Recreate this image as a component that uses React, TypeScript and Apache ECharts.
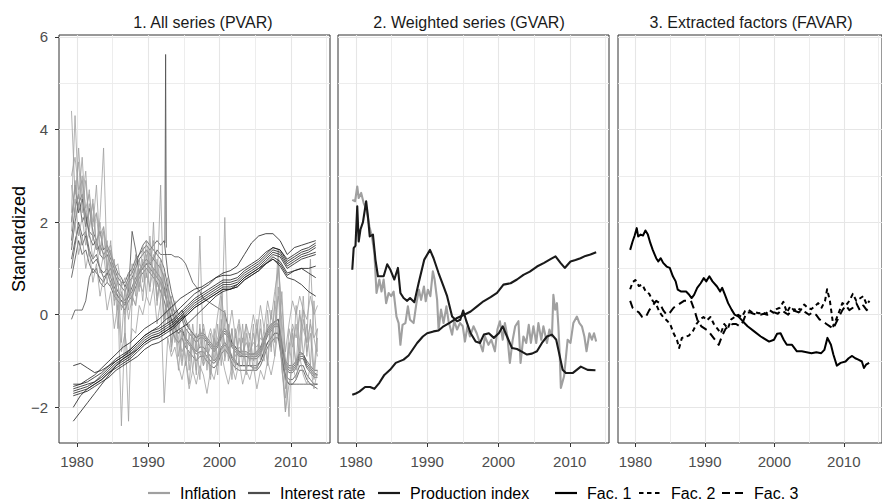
import React, { useEffect, useRef } from "react";
import * as echarts from "echarts";

const FONT = '"Liberation Sans", Arial, Helvetica, sans-serif';

// shared scales of the three facets
const X_MIN = 1977.5;
const X_MAX = 2015.5;
const Y_MIN = -2.77;
const Y_MAX = 6.04;
const X_MAJOR = [1980, 1990, 2000, 2010];
const X_MINOR = [1985, 1995, 2005, 2015];
const Y_MAJOR = [-2, 0, 2, 4, 6];
const Y_MINOR = [-1, 1, 3, 5];

const PANEL_TITLES = ["1. All series (PVAR)", "2. Weighted series (GVAR)", "3. Extracted factors (FAVAR)"];
const Y_TITLE = "Standardized";

const INFLATION_COLOR = "#a0a0a0";
const INTEREST_COLOR = "#4d4d4d";
const PRODUCTION_COLOR = "#1a1a1a";

// observation dates of panel 1
const HALF_YEARS = Array.from({ length: 70 }, (_, i) => 1979.25 + i * 0.5);
const YEARS = Array.from({ length: 35 }, (_, i) => 1979.5 + i);

// ---- Panel 1: interest rates (half-yearly) ----
const IR_1 = [
  1.6, 2.3, 2.6, 2.0, 2.2, 1.7, 1.5, 1.6, 1.3, 1.2,
  1.3, 1.1, 0.9, 0.7, 0.6, 0.5, 0.7, 0.8, 1.0, 1.2,
  1.3, 1.4, 1.3, 1.2, 1.1, 1.0, 0.8, 0.4, 0.1, -0.1,
  -0.2, -0.1, -0.3, -0.4, -0.5, -0.6, -0.5, -0.5, -0.6, -0.7,
  -0.8, -0.7, -0.5, -0.4, -0.5, -0.7, -0.8, -0.9, -0.9, -0.9,
  -0.9, -0.9, -0.9, -0.8, -0.6, -0.4, -0.3, -0.2, -0.2, -0.7,
  -1.1, -1.2, -1.2, -1.1, -0.9, -0.9, -1.1, -1.2, -1.3, -1.3,
];
const IR_2 = [
  -0.1, 0.1, 0.1, 0.1, 0.3, 0.8, 1.0, 0.9, 0.8, 0.7,
  0.9, 1.0, 0.7, 0.5, 0.4, 0.3, 0.5, 1.8, 1.4, 0.9,
  1.0, 1.1, 1.0, 0.9, 0.8, 0.7, 0.5, 0.2, -0.1, -0.3,
  -0.4, -0.3, -0.5, -0.6, -0.7, -0.8, -0.7, -0.7, -0.8, -0.9,
  -1.0, -0.9, -0.7, -0.6, -0.7, -0.9, -1.0, -1.1, -1.1, -1.1,
  -1.1, -1.15, -1.15, -1.0, -0.8, -0.6, -0.5, -0.4, -0.4, -0.9,
  -1.3, -1.4, -1.4, -1.3, -1.1, -1.1, -1.3, -1.4, -1.5, -1.5,
];
const IR_3 = [
  1.0, 1.5, 2.0, 1.7, 1.8, 1.4, 1.2, 1.3, 1.0, 0.9,
  1.0, 0.8, 0.6, 0.4, 0.3, 0.2, 0.4, 0.5, 0.7, 0.9,
  1.0, 1.1, 1.1, 1.2, 1.4, 1.3, 1.3, 1.3, 1.3, 1.25,
  1.25, 1.2, 1.1, 0.9, 0.7, 0.6, 0.5, 0.35, 0.3, 0.25,
  0.2, 0.15, 0.1, 0.05, -0.3, -0.6, -0.7, -0.8, -0.8, -0.8,
  -0.85, -0.85, -0.8, -0.7, -0.5, -0.3, -0.2, -0.15, -0.1, -0.6,
  -1.0, -1.1, -1.1, -1.0, -0.8, -0.85, -1.0, -1.1, -1.2, -1.2,
];
const IR_4 = [
  1.4, 2.0, 2.4, 2.6, 2.1, 1.8, 1.7, 1.4, 1.5, 1.3,
  1.4, 1.2, 1.0, 0.8, 0.7, 0.7, 0.9, 1.0, 1.2, 1.3,
  1.4, 1.5, 1.4, 1.5, 1.6, 1.5, 1.6, 0.9, 0.5, 0.2,
  0.0, 0.1, -0.1, -0.3, -0.4, -0.5, -0.4, -0.4, -0.5, -0.6,
  -0.7, -0.6, -0.4, -0.3, -0.4, -0.6, -0.7, -0.8, -0.85, -0.85,
  -0.85, -0.85, -0.85, -0.75, -0.55, -0.35, -0.25, -0.15, -0.1, -0.65,
  -1.05, -1.15, -1.15, -1.05, -0.85, -0.85, -1.05, -1.15, -1.25, -1.3,
];
const IR_5 = [
  0.8, 1.2, 1.6, 1.3, 1.4, 1.1, 0.9, 1.0, 0.7, 0.6,
  0.7, 0.6, 0.4, 0.3, 0.2, 0.1, 0.3, 0.4, 0.6, 0.8,
  0.9, 1.0, 0.9, 0.8, 0.7, 0.5, 0.3, 0.0, -0.3, -0.5,
  -0.6, -0.5, -0.7, -0.8, -0.9, -1.0, -0.9, -0.9, -1.0, -1.1,
  -1.15, -1.05, -0.85, -0.75, -0.85, -1.05, -1.15, -1.2, -1.2, -1.2,
  -1.2, -1.2, -1.2, -1.1, -0.9, -0.7, -0.6, -0.5, -0.5, -1.0,
  -1.4, -1.5, -1.5, -1.4, -1.2, -1.2, -1.4, -1.5, -1.55, -1.6,
];
const IR_6 = [
  2.0, 2.8, 2.2, 2.5, 1.9, 2.3, 1.8, 1.6, 1.8, 1.4,
  1.5, 1.3, 1.1, 0.9, 0.8, 0.6, 0.8, 0.9, 1.1, 1.3,
  1.5, 1.6, 1.5, 1.4, 1.3, 1.2, 1.0, 0.6, 0.3, 0.0,
  -0.1, 0.0, -0.2, -0.3, -0.4, -0.5, -0.45, -0.45, -0.55, -0.65,
  -0.75, -0.65, -0.45, -0.35, -0.45, -0.65, -0.75, -0.85, -0.9, -0.9,
  -0.95, -0.95, -0.95, -0.85, -0.65, -0.45, -0.35, -0.25, -0.25, -0.75,
  -1.15, -1.25, -1.25, -1.15, -0.95, -0.95, -1.15, -1.25, -1.35, -1.35,
];
const IR_7 = [
  1.2, 1.6, 1.9, 1.5, 1.7, 1.3, 1.1, 1.2, 1.0, 0.8,
  0.9, 0.7, 0.5, 0.4, 0.3, 0.25, 0.4, 0.6, 0.8, 0.9,
  1.1, 1.2, 1.1, 1.0, 0.9, 0.8, 0.6, 0.2, -0.1, -0.3,
  -0.4, -0.35, -0.55, -0.65, -0.75, -0.85, -0.8, -0.8, -0.9, -1.0,
  -1.05, -0.95, -0.75, -0.65, -0.75, -0.95, -1.05, -1.1, -1.1, -1.1,
  -1.1, -1.1, -1.1, -1.0, -0.8, -0.6, -0.5, -0.4, -0.4, -0.9,
  -1.35, -1.5, -1.5, -1.5, -1.5, -1.5, -1.5, -1.5, -1.5, -1.5,
];
// short-lived jump of one interest rate in 1992
const IR_SPIKE_X = [1992.35, 1992.45, 1992.55];
const IR_SPIKE_Y = [1.55, 5.62, 1.45];

// ---- Panel 1: inflation (half-yearly) ----
const INF_1 = [
  4.4, 2.6, 3.3, 2.2, 2.9, 1.9, 2.4, 1.5, 2.0, 1.2,
  1.6, 0.8, 1.2, 0.1, 0.7, -0.2, 0.9, 0.3, 1.3, 0.6,
  1.5, 0.8, 1.7, 0.6, 1.2, 0.3, 0.9, -0.2, 0.4, -0.6,
  -0.1, -1.0, -0.3, -1.2, -0.4, -1.3, -0.2, -1.1, -0.5, -1.3,
  -0.3, -1.1, 0.4, -0.9, -0.2, -1.2, -0.3, -1.1, -0.2, -1.2,
  -0.4, -1.0, -0.1, -0.9, -0.3, -1.0, 0.1, -0.6, 1.2, -0.9,
  -2.1, -0.6, -1.2, 0.2, -0.8, 0.4, -0.9, -0.1, -1.2, -0.3,
];
const INF_2 = [
  2.2, 4.3, 2.5, 3.4, 2.1, 2.7, 1.6, 2.2, 1.3, 1.8,
  0.9, 1.4, 0.2, 0.9, -0.6, 0.6, 0.1, 1.1, 0.4, 1.2,
  0.7, 1.6, 0.9, 1.3, 0.4, 0.8, -0.1, 0.5, -0.6, 0.1,
  -0.9, -0.3, -1.1, -0.4, -1.2, -0.5, -1.4, -0.3, -1.2, -0.4,
  -1.0, -0.2, -1.1, 0.1, -1.0, -0.3, -1.2, -0.2, -1.1, -0.4,
  -1.1, -0.2, -1.2, -0.1, -1.0, 0.1, -0.8, 0.3, -0.4, 0.5,
  -1.0, -2.2, -0.4, -1.1, 0.1, -0.9, -0.2, -1.1, 0.3, -0.8,
];
const INF_3 = [
  2.8, 2.1, 3.6, 2.5, 3.1, 1.8, 2.5, 1.4, 2.1, 3.6,
  1.0, 1.6, 0.3, 0.4, -2.4, -0.2, -2.3, 0.4, 0.2, 1.0,
  0.3, 1.3, 0.5, 2.0, 0.2, 1.1, -0.4, 0.6, -0.8, -0.1,
  -1.2, -0.4, -0.9, -1.5, -0.6, -1.2, -0.3, -1.0, -0.7, -1.4,
  -0.6, -1.3, -0.1, -1.0, -0.5, -1.4, -0.4, -0.9, -0.5, -1.3,
  -0.6, -1.2, -0.3, -1.0, -0.5, -1.1, -0.2, -0.9, 0.6, -1.2,
  -1.8, -0.9, -0.3, -1.2, -0.5, 0.1, -0.8, -0.4, -1.4, -0.5,
];
const INF_4 = [
  1.8, 2.9, 2.3, 3.0, 1.7, 2.4, 1.9, 2.8, 1.4, 1.9,
  1.1, 0.6, 1.0, -0.3, 0.5, 0.0, 0.7, 0.2, 1.0, 0.5,
  1.2, 0.4, 1.4, 0.9, 0.6, 2.8, -0.1, 0.3, -0.7, -0.2,
  -0.6, -1.1, -0.5, -1.0, -0.2, -0.8, 1.7, -0.9, -0.6, -1.2,
  -0.5, -0.9, -0.6, 2.1, -0.9, -0.3, -1.1, -0.5, -0.9, -0.2,
  -1.0, -0.4, -0.9, -0.3, -0.8, -0.2, -0.7, 0.2, 1.4, -0.4,
  -1.6, -0.3, -0.7, -0.2, -1.0, -0.1, -0.6, 1.2, -0.5, -0.9,
];
const INF_5 = [
  2.0, 2.5, 1.7, 2.1, 1.5, 1.8, 1.2, 1.6, 0.9, 1.3,
  0.7, 1.1, 0.4, 0.7, 0.1, 0.5, -0.1, 0.4, 0.2, 0.7,
  0.5, 0.9, 0.6, 1.0, 0.3, 0.7, 0.0, 0.3, -0.3, -0.1,
  -0.5, -0.8, -0.6, -0.9, -0.7, -1.0, -0.8, -1.1, -0.9, -0.7,
  -0.8, -0.5, -0.3, -0.6, -0.8, -0.6, -0.9, -0.7, -0.8, -0.6,
  -0.8, -0.6, -0.7, -0.5, -0.6, -0.4, -0.5, -0.2, 0.4, -0.1,
  -1.2, -0.7, -0.2, -0.5, 0.0, -0.3, -0.6, -0.2, -0.5, -0.3,
];
const INF_6 = [
  3.0, 3.4, 2.7, 2.9, 2.3, 2.6, 2.0, 2.2, 1.7, 1.9,
  1.4, 1.5, 1.0, 1.1, 0.6, 0.8, 0.4, 0.8, 0.7, 1.1,
  1.0, 1.4, 1.1, 1.6, 0.8, 1.2, 0.4, 0.8, 0.0, 0.3,
  -0.3, 0.0, -0.5, -0.2, -0.6, -0.4, -0.7, -0.2, -0.6, -0.3,
  -0.6, 0.0, 0.5, -0.3, -0.4, 0.1, -0.5, -0.1, -0.6, -0.2,
  -0.5, 0.0, -0.4, 0.2, -0.3, 0.3, -0.1, 0.5, 1.0, 0.2,
  -0.8, -0.2, 0.3, 0.0, 0.4, 0.1, -0.1, 0.4, 0.0, 0.2,
];
const INF_7 = [
  1.5, 2.0, 1.3, 1.7, 1.0, 1.4, 0.7, 1.1, 0.4, 0.8,
  0.1, 0.5, -0.3, 0.2, -0.8, -0.4, -1.0, -0.3, -0.4, 0.2,
  0.0, 0.4, 0.2, 0.6, -0.2, 0.3, -1.9, -0.5, -0.9, -0.7,
  -1.1, -1.4, -1.0, -1.6, -1.2, -1.5, -1.1, -1.3, -1.7, -1.2,
  -1.4, -1.0, -0.8, -1.2, -1.5, -1.1, -1.4, -1.0, -1.5, -1.2,
  -1.4, -1.1, -1.6, -1.2, -1.4, -1.0, -1.3, -0.9, -0.3, -1.1,
  -2.1, -1.5, -1.1, -1.4, -0.9, -1.3, -1.5, -1.1, -1.6, -1.2,
];

// ---- Panel 1: production indices (yearly) ----
const PROD_1 = [-1.6, -1.55, -1.5, -1.45, -1.35, -1.2, -1.05, -0.95, -0.85, -0.7, -0.55, -0.45, -0.4, -0.3, -0.2, -0.05, 0.1, 0.25, 0.35, 0.45, 0.55, 0.65, 0.65, 0.7, 0.85, 0.95, 1.05, 1.2, 1.35, 1.3, 1.05, 1.15, 1.25, 1.3, 1.35];
const PROD_2 = [-1.5, -1.5, -1.45, -1.35, -1.25, -1.1, -0.95, -0.85, -0.75, -0.6, -0.45, -0.35, -0.3, -0.2, -0.1, 0.05, 0.2, 0.35, 0.45, 0.55, 0.65, 0.75, 0.75, 0.8, 0.95, 1.05, 1.15, 1.3, 1.45, 1.4, 1.15, 1.25, 1.35, 1.4, 1.5];
const PROD_3 = [-1.1, -1.05, -1.15, -1.25, -1.2, -1.1, -1.0, -0.9, -0.8, -0.65, -0.5, -0.4, -0.35, -0.25, -0.15, 0.0, 0.15, 0.3, 0.4, 0.5, 0.6, 0.7, 0.7, 0.75, 0.9, 1.0, 1.1, 1.25, 1.4, 1.35, 1.1, 1.2, 1.3, 1.35, 1.45];
const PROD_4 = [-2.3, -2.1, -1.9, -1.7, -1.5, -1.3, -1.1, -0.95, -0.85, -0.75, -0.6, -0.5, -0.45, -0.35, -0.25, -0.1, 0.0, 0.15, 0.25, 0.35, 0.45, 0.55, 0.55, 0.6, 0.75, 0.85, 0.95, 1.1, 1.25, 1.15, 0.9, 0.95, 1.0, 1.0, 1.05];
const PROD_5 = [-2.0, -1.75, -1.6, -1.5, -1.4, -1.25, -1.1, -1.0, -0.9, -0.75, -0.6, -0.5, -0.45, -0.35, -0.25, -0.1, 0.05, 0.2, 0.3, 0.4, 0.5, 0.6, 0.6, 0.65, 0.8, 0.9, 1.0, 1.1, 1.2, 1.05, 0.8, 0.75, 0.65, 0.5, 0.4];
const PROD_6 = [-1.65, -1.6, -1.55, -1.45, -1.3, -1.15, -1.0, -0.9, -0.75, -0.6, -0.45, -0.35, -0.25, -0.1, 0.0, 0.15, 0.3, 0.45, 0.55, 0.65, 0.8, 0.9, 0.95, 1.05, 1.3, 1.55, 1.7, 1.75, 1.75, 1.6, 1.3, 1.45, 1.5, 1.55, 1.6];
const PROD_7 = [-1.7, -1.65, -1.6, -1.5, -1.4, -1.25, -1.15, -1.05, -0.95, -0.8, -0.65, -0.55, -0.5, -0.4, -0.3, -0.15, 0.0, 0.15, 0.25, 0.35, 0.45, 0.55, 0.55, 0.6, 0.75, 0.85, 0.95, 1.1, 1.2, 1.1, 0.85, 0.95, 1.0, 0.9, 0.8];
const PROD_8 = [-1.75, -1.7, -1.65, -1.55, -1.45, -1.35, -1.2, -1.1, -1.0, -0.9, -0.75, -0.65, -0.6, -0.5, -0.4, -0.3, -0.2, -0.05, 0.1, 0.25, 0.4, 0.5, 0.55, 0.65, 0.8, 0.9, 1.0, 1.15, 1.3, 1.25, 1.0, 1.1, 1.2, 1.25, 1.3];
const PROD_9 = [-1.55, -1.5, -1.4, -1.3, -1.15, -1.0, -0.85, -0.7, -0.6, -0.45, -0.3, -0.2, -0.1, 0.05, 0.2, 0.35, 0.45, 0.55, 0.6, 0.7, 0.8, 0.85, 0.85, 0.9, 1.0, 1.1, 1.2, 1.35, 1.45, 1.4, 1.2, 1.3, 1.4, 1.45, 1.55];

// ---- Panel 2: weighted series, [year, value] ----
const GVAR_INFLATION: [number, number][] = [
  [1979.5, 2.48], [1979.9, 2.45], [1980.2, 2.77], [1980.4, 2.52], [1980.75, 2.63], [1981.1, 2.41], [1981.5, 2.27],
  [1981.9, 1.91], [1982.25, 1.69], [1982.6, 1.33], [1982.9, 0.47], [1983.3, 0.76], [1983.6, 0.5], [1983.9, 0.76],
  [1984.25, 0.25], [1984.6, 0.47], [1984.95, 0.4], [1985.3, 0.5], [1985.7, -0.04], [1986.0, -0.18], [1986.25, -0.65],
  [1986.55, -0.22], [1986.95, -0.18], [1987.3, 0.18], [1987.6, -0.11], [1988.1, -0.18], [1988.5, 0.25], [1988.85, 0.54],
  [1989.15, 0.32], [1989.55, 0.61], [1989.8, 0.29], [1990.1, 0.54], [1990.45, 0.4], [1990.8, 0.94], [1991.05, 0.76],
  [1991.4, 0.32], [1991.6, -0.32], [1991.95, 0.11], [1992.3, -0.18], [1992.7, 0.18], [1993.0, -0.14], [1993.5, -0.43],
  [1993.8, -0.14], [1994.2, -0.32], [1994.6, -0.18], [1995.0, -0.25], [1995.3, -0.58], [1995.65, -0.25], [1996.0, -0.47],
  [1996.5, -0.25], [1996.95, -0.4], [1997.4, -0.61], [1997.8, -0.79], [1998.1, -0.47], [1998.6, -0.65], [1999.0, -0.54],
  [1999.5, -0.79], [1999.85, -0.32], [2000.2, -0.14], [2000.6, -0.54], [2000.9, -0.18], [2001.25, -0.47], [2001.6, -1.04],
  [2002.0, -0.54], [2002.35, -0.25], [2002.8, -0.14], [2003.1, -1.04], [2003.5, -0.47], [2003.9, -0.61], [2004.25, -0.22],
  [2004.55, -0.61], [2004.9, -0.25], [2005.3, -0.61], [2005.6, -0.18], [2006.0, -0.54], [2006.3, -0.25], [2006.8, -0.61],
  [2007.15, -0.32], [2007.5, -0.47], [2007.7, 0.43], [2007.95, 0.11], [2008.2, 0.25], [2008.4, -0.25], [2008.6, -0.9],
  [2008.75, -1.58], [2009.2, -1.33], [2009.7, -0.54], [2010.1, -0.61], [2010.5, -0.18], [2011.0, -0.04], [2011.35, -0.18],
  [2011.7, -0.25], [2012.05, -0.47], [2012.35, -0.79], [2012.75, -0.4], [2013.1, -0.54], [2013.4, -0.4], [2013.7, -0.58],
];
const GVAR_INTEREST: [number, number][] = [
  [1979.5, 0.97], [1979.7, 1.44], [1979.95, 1.49], [1980.2, 2.34], [1980.4, 1.58], [1980.65, 1.84], [1981.0, 2.0],
  [1981.45, 2.45], [1981.7, 2.12], [1981.95, 1.69], [1982.4, 1.73], [1982.75, 1.19], [1983.1, 0.83], [1983.9, 0.83],
  [1984.4, 1.09], [1984.85, 0.97], [1985.4, 0.76], [1985.9, 1.01], [1986.25, 0.47], [1986.7, 0.36], [1987.2, 0.3],
  [1987.6, 0.36], [1988.2, 0.27], [1988.8, 0.68], [1989.6, 1.19], [1990.4, 1.4], [1990.9, 1.22], [1991.6, 0.9],
  [1992.3, 0.61], [1992.8, 0.4], [1993.5, -0.04], [1994.2, -0.14], [1994.65, -0.11], [1995.05, 0.09], [1995.5, -0.14],
  [1996.1, -0.4], [1996.8, -0.58], [1997.4, -0.61], [1997.95, -0.43], [1998.65, -0.4], [1999.35, -0.5], [2000.05, -0.4],
  [2000.6, -0.25], [2001.2, -0.47], [2001.9, -0.72], [2002.6, -0.74], [2003.2, -0.79], [2004.0, -0.86], [2004.7, -0.84],
  [2005.4, -0.79], [2006.1, -0.61], [2006.8, -0.47], [2007.5, -0.43], [2008.1, -0.54], [2008.6, -0.9], [2009.0, -1.19],
  [2009.45, -1.26], [2010.4, -1.26], [2011.55, -1.12], [2012.5, -1.19], [2013.6, -1.2],
];
const GVAR_PRODUCTION: [number, number][] = [
  [1979.5, -1.73], [1980.0, -1.7], [1980.5, -1.66], [1981.3, -1.56], [1982.0, -1.56], [1982.6, -1.6], [1983.3, -1.47],
  [1984.0, -1.3], [1984.8, -1.19], [1985.6, -1.04], [1986.7, -0.97], [1987.4, -0.88], [1988.6, -0.61], [1989.4, -0.47],
  [1990.0, -0.4], [1990.9, -0.36], [1991.6, -0.34], [1992.3, -0.25], [1993.2, -0.17], [1994.2, -0.07], [1995.2, 0.0],
  [1996.1, 0.07], [1997.0, 0.18], [1997.9, 0.29], [1998.9, 0.38], [1999.8, 0.47], [2000.7, 0.65], [2001.7, 0.68],
  [2002.6, 0.76], [2003.5, 0.86], [2004.4, 0.93], [2005.4, 1.04], [2006.4, 1.12], [2007.3, 1.2], [2008.0, 1.26],
  [2008.7, 1.12], [2009.3, 1.01], [2010.1, 1.15], [2010.8, 1.18], [2011.5, 1.22], [2012.2, 1.27], [2012.9, 1.3],
  [2013.7, 1.35],
];

// ---- Panel 3: extracted factors, [year, value] ----
const FAC_1: [number, number][] = [
  [1979.25, 1.4], [1979.6, 1.58], [1979.9, 1.71], [1980.2, 1.87], [1980.4, 1.69], [1980.75, 1.73], [1981.1, 1.71],
  [1981.45, 1.82], [1981.8, 1.73], [1982.15, 1.55], [1982.5, 1.4], [1983.0, 1.22], [1983.3, 1.15], [1983.65, 1.22],
  [1984.0, 1.12], [1984.5, 1.04], [1984.95, 1.01], [1985.4, 0.83], [1985.8, 0.72], [1986.1, 0.54], [1986.6, 0.5],
  [1987.3, 0.5], [1987.75, 0.43], [1988.1, 0.36], [1988.45, 0.43], [1988.9, 0.58], [1989.4, 0.68], [1989.85, 0.79],
  [1990.2, 0.72], [1990.65, 0.83], [1991.1, 0.72], [1991.75, 0.61], [1992.2, 0.5], [1992.5, 0.58], [1992.9, 0.43],
  [1993.35, 0.25], [1993.85, 0.11], [1994.3, 0.0], [1994.85, -0.04], [1995.45, -0.14], [1996.15, -0.25], [1997.1, -0.36],
  [1998.05, -0.47], [1999.25, -0.58], [1999.95, -0.54], [2000.4, -0.41], [2000.9, -0.4], [2001.35, -0.54], [2001.8, -0.65],
  [2002.55, -0.65], [2003.25, -0.79], [2003.95, -0.79], [2004.65, -0.81], [2005.35, -0.83], [2006.05, -0.81], [2006.75, -0.83],
  [2007.2, -0.76], [2007.65, -0.5], [2008.15, -0.65], [2008.5, -0.86], [2009.0, -1.1], [2009.55, -1.04], [2010.25, -1.01],
  [2010.7, -0.94], [2011.2, -0.89], [2011.65, -0.94], [2012.1, -0.97], [2012.6, -1.01], [2012.9, -1.15], [2013.2, -1.08],
  [2013.65, -1.04],
];
const FAC_2: [number, number][] = [
  [1979.25, 0.55], [1979.6, 0.7], [1980.0, 0.75], [1980.5, 0.62], [1981.0, 0.65], [1981.5, 0.5], [1982.0, 0.45],
  [1982.5, 0.3], [1983.0, 0.22], [1983.5, 0.05], [1984.0, -0.05], [1984.5, -0.12], [1985.0, -0.2], [1985.5, -0.4],
  [1986.0, -0.55], [1986.3, -0.72], [1986.7, -0.5], [1987.2, -0.48], [1987.7, -0.45], [1988.3, -0.35], [1988.8, -0.2],
  [1989.3, -0.1], [1989.8, -0.05], [1990.3, -0.12], [1990.8, -0.05], [1991.3, -0.2], [1991.8, -0.3], [1992.3, -0.4],
  [1992.8, -0.2], [1993.3, -0.3], [1993.8, -0.1], [1994.3, -0.05], [1994.8, 0.0], [1995.3, -0.05], [1995.8, 0.08],
  [1996.3, 0.1], [1996.8, 0.05], [1997.3, 0.05], [1997.8, 0.03], [1998.3, 0.05], [1998.8, 0.02], [1999.3, 0.1],
  [1999.8, 0.05], [2000.3, 0.12], [2000.8, 0.15], [2001.3, 0.28], [2001.8, 0.05], [2002.3, 0.18], [2002.8, 0.1],
  [2003.3, 0.15], [2003.8, 0.1], [2004.3, 0.22], [2004.8, 0.15], [2005.3, 0.12], [2005.8, 0.18], [2006.3, 0.25],
  [2006.8, 0.15], [2007.3, 0.3], [2007.6, 0.55], [2008.0, 0.3], [2008.5, -0.25], [2008.9, -0.1], [2009.3, 0.05],
  [2009.8, 0.25], [2010.3, 0.2], [2010.8, 0.3], [2011.3, 0.45], [2011.8, 0.3], [2012.3, 0.35], [2012.8, 0.4],
  [2013.3, 0.22], [2013.7, 0.3],
];
const FAC_3: [number, number][] = [
  [1979.25, 0.3], [1979.6, 0.15], [1980.0, 0.1], [1980.5, 0.05], [1981.0, -0.05], [1981.5, -0.05], [1982.0, 0.1],
  [1982.5, 0.2], [1983.0, 0.3], [1983.5, 0.25], [1984.0, 0.1], [1984.5, 0.0], [1985.0, 0.05], [1985.5, 0.15],
  [1986.0, 0.2], [1986.5, 0.25], [1987.0, 0.3], [1987.5, 0.3], [1988.0, 0.3], [1988.5, 0.1], [1989.0, -0.15],
  [1989.5, -0.25], [1990.0, -0.3], [1990.5, -0.35], [1991.0, -0.45], [1991.5, -0.55], [1992.0, -0.65], [1992.5, -0.45],
  [1993.0, -0.3], [1993.5, -0.25], [1994.0, -0.2], [1994.5, -0.2], [1995.0, -0.25], [1995.5, -0.15], [1996.0, 0.05],
  [1996.5, 0.05], [1997.0, 0.02], [1997.5, 0.0], [1998.0, 0.0], [1998.5, 0.02], [1999.0, 0.0], [1999.5, 0.03],
  [2000.0, 0.05], [2000.5, 0.02], [2001.0, 0.1], [2001.5, 0.05], [2002.0, 0.0], [2002.5, 0.1], [2003.0, 0.08],
  [2003.5, 0.05], [2004.0, 0.1], [2004.5, 0.05], [2005.0, 0.0], [2005.5, 0.05], [2006.0, 0.0], [2006.5, -0.1],
  [2007.0, -0.15], [2007.5, -0.2], [2008.0, -0.25], [2008.5, -0.3], [2008.8, -0.2], [2009.3, -0.05], [2009.8, 0.1],
  [2010.3, 0.2], [2010.8, 0.1], [2011.3, 0.15], [2011.8, 0.25], [2012.3, 0.1], [2012.8, 0.2], [2013.3, 0.1],
  [2013.7, 0.15],
];

const INTEREST_SERIES = [IR_1, IR_2, IR_3, IR_4, IR_5, IR_6, IR_7];
const INFLATION_SERIES = [INF_1, INF_2, INF_3, INF_4, INF_5, INF_6, INF_7];
const PRODUCTION_SERIES = [PROD_1, PROD_2, PROD_3, PROD_4, PROD_5, PROD_6, PROD_7, PROD_8, PROD_9];

const FAC2_DASH = [4.5, 3.5];
const FAC3_DASH = [8, 5];

const LEGEND_ITEMS = [
  { label: "Inflation", color: INFLATION_COLOR, dash: null as any, x: 148 },
  { label: "Interest rate", color: INTEREST_COLOR, dash: null as any, x: 248 },
  { label: "Production index", color: PRODUCTION_COLOR, dash: null as any, x: 378 },
  { label: "Fac. 1", color: "#000000", dash: null as any, x: 555 },
  { label: "Fac. 2", color: "#000000", dash: FAC2_DASH as any, x: 639 },
  { label: "Fac. 3", color: "#000000", dash: FAC3_DASH as any, x: 722 },
];

// layout of the facet panels (pixels)
const PANEL_LEFT = [59, 338, 618];
const PANEL_TOP = 35;
const PANEL_W = 271;
const PANEL_H = 408;
const TITLE_CENTER = [203, 469, 751];

const zip = (xs: number[], ys: number[]) => ys.map((v, i) => [xs[i], v]);

function lineSeries(name: string, data: any[], panel: number, color: string, width: number, dash: any = "solid", z = 2) {
  return {
    type: "line",
    name,
    data,
    xAxisIndex: panel * 2,
    yAxisIndex: panel * 2,
    showSymbol: false,
    symbol: "none",
    silent: true,
    z,
    lineStyle: { color, width, type: dash, cap: "butt", join: "round" },
  };
}

function buildOption() {
  const grid = PANEL_LEFT.map((left) => ({
    left,
    top: PANEL_TOP,
    width: PANEL_W,
    height: PANEL_H,
    show: true,
    borderColor: "#333333",
    borderWidth: 1,
    backgroundColor: "transparent",
  }));

  const xAxis: any[] = [];
  const yAxis: any[] = [];
  PANEL_LEFT.forEach((_, g) => {
    xAxis.push({
      type: "value",
      gridIndex: g,
      min: X_MIN,
      max: X_MAX,
      position: "bottom",
      axisLine: { show: false, onZero: false },
      axisTick: { show: true, customValues: X_MAJOR, length: 4, lineStyle: { color: "#333333", width: 1 } },
      axisLabel: {
        show: true,
        customValues: X_MAJOR,
        margin: 11,
        color: "#4d4d4d",
        fontSize: 15,
        fontFamily: FONT,
        formatter: (v: number) => String(v),
      },
      splitLine: { show: true, lineStyle: { color: "#e6e6e6", width: 1.1 } },
    });
    xAxis.push({
      type: "value",
      gridIndex: g,
      min: X_MIN,
      max: X_MAX,
      position: "bottom",
      axisLine: { show: false, onZero: false },
      axisTick: { show: false, customValues: X_MINOR },
      axisLabel: { show: false },
      splitLine: { show: true, lineStyle: { color: "#ebebeb", width: 0.9 } },
    });
    yAxis.push({
      type: "value",
      gridIndex: g,
      min: Y_MIN,
      max: Y_MAX,
      position: "left",
      axisLine: { show: false, onZero: false },
      axisTick: { show: g === 0, customValues: Y_MAJOR, length: 4, lineStyle: { color: "#333333", width: 1 } },
      axisLabel: {
        show: g === 0,
        customValues: Y_MAJOR,
        margin: 11,
        color: "#4d4d4d",
        fontSize: 15,
        fontFamily: FONT,
        formatter: (v: number) => (v < 0 ? "\u2212" + Math.abs(v) : String(v)),
      },
      splitLine: { show: true, lineStyle: { color: "#e6e6e6", width: 1.1 } },
    });
    yAxis.push({
      type: "value",
      gridIndex: g,
      min: Y_MIN,
      max: Y_MAX,
      position: "left",
      axisLine: { show: false, onZero: false },
      axisTick: { show: false, customValues: Y_MINOR },
      axisLabel: { show: false },
      splitLine: { show: true, lineStyle: { color: "#ebebeb", width: 0.9 } },
    });
  });

  const series: any[] = [];
  INTEREST_SERIES.forEach((s, i) =>
    series.push(lineSeries("Interest rate " + (i + 1), zip(HALF_YEARS, s), 0, INTEREST_COLOR, 0.8, "solid", 2))
  );
  series.push(lineSeries("Interest rate spike", zip(IR_SPIKE_X, IR_SPIKE_Y), 0, INTEREST_COLOR, 0.8, "solid", 2));
  INFLATION_SERIES.forEach((s, i) =>
    series.push(lineSeries("Inflation " + (i + 1), zip(HALF_YEARS, s), 0, INFLATION_COLOR, 0.8, "solid", 3))
  );
  PRODUCTION_SERIES.forEach((s, i) =>
    series.push(lineSeries("Production index " + (i + 1), zip(YEARS, s), 0, PRODUCTION_COLOR, 0.8, "solid", 4))
  );

  series.push(lineSeries("Inflation (weighted)", GVAR_INFLATION, 1, INFLATION_COLOR, 2.1, "solid", 2));
  series.push(lineSeries("Interest rate (weighted)", GVAR_INTEREST, 1, PRODUCTION_COLOR, 2.1, "solid", 3));
  series.push(lineSeries("Production index (weighted)", GVAR_PRODUCTION, 1, PRODUCTION_COLOR, 2.1, "solid", 3));

  series.push(lineSeries("Fac. 1", FAC_1, 2, "#000000", 2, "solid", 3));
  series.push(lineSeries("Fac. 2", FAC_2, 2, "#000000", 2, FAC2_DASH, 3));
  series.push(lineSeries("Fac. 3", FAC_3, 2, "#000000", 2, FAC3_DASH, 3));

  const graphic: any[] = [];
  PANEL_TITLES.forEach((t, i) => {
    graphic.push({
      type: "text",
      x: TITLE_CENTER[i],
      y: 22,
      silent: true,
      style: { text: t, fill: "#1a1a1a", fontSize: 16, fontFamily: FONT, align: "center", verticalAlign: "middle" },
    });
  });
  graphic.push({
    type: "text",
    x: 19,
    y: PANEL_TOP + PANEL_H / 2,
    rotation: Math.PI / 2,
    silent: true,
    style: { text: Y_TITLE, fill: "#000000", fontSize: 18, fontFamily: FONT, align: "center", verticalAlign: "middle" },
  });
  const legendY = 493;
  LEGEND_ITEMS.forEach((it) => {
    graphic.push({
      type: "line",
      silent: true,
      shape: { x1: it.x, y1: legendY, x2: it.x + 22, y2: legendY },
      style: { stroke: it.color, lineWidth: 2.2, lineDash: it.dash },
    });
    graphic.push({
      type: "text",
      x: it.x + 32,
      y: legendY,
      silent: true,
      style: { text: it.label, fill: "#000000", fontSize: 16, fontFamily: FONT, align: "left", verticalAlign: "middle" },
    });
  });

  return {
    animation: false,
    backgroundColor: "#ffffff",
    grid,
    xAxis,
    yAxis,
    series,
    graphic,
  };
}

export default function App() {
  const ref = useRef<HTMLDivElement>(null);
  useEffect(() => {
    if (!ref.current) return;
    const chart = echarts.init(ref.current, undefined, { renderer: "svg" });
    chart.setOption(buildOption() as any);
    return () => chart.dispose();
  }, []);
  return (
    <div
      ref={ref}
      style={{ position: "absolute", left: 0, top: 0, width: 882, height: 502, background: "#ffffff" }}
    />
  );
}
